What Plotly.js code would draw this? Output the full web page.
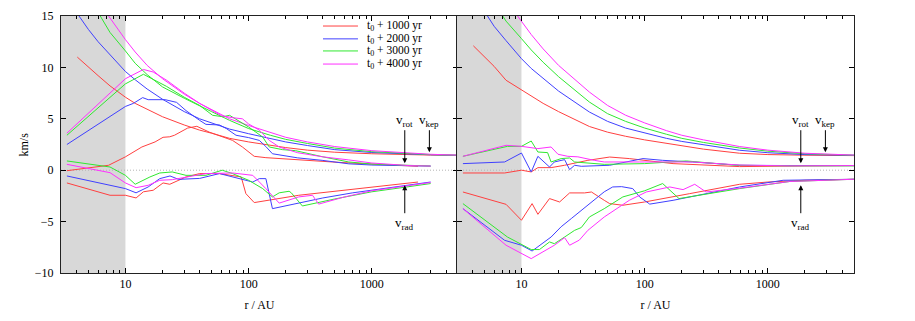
<!DOCTYPE html>
<html>
<head>
<meta charset="utf-8">
<script src="https://cdn.plot.ly/plotly-3.0.1.min.js"></script>
<style>
  html, body { margin: 0; padding: 0; background: #fff; }
  #chart { width: 915px; height: 321px; }
</style>
</head>
<body>
<div id="chart"></div>
<script>
// series labels and colours
const epochs = ['t<sub>0</sub> + 1000 yr', 't<sub>0</sub> + 2000 yr', 't<sub>0</sub> + 3000 yr', 't<sub>0</sub> + 4000 yr'];
const colors = ['#ff4040', '#4040ff', '#30e830', '#ff30ff'];

// ---------- left panel ----------
// keplerian velocity
const kepL_r = [
  [4.07, 5, 6, 7.5, 10, 12, 15, 20, 30, 40, 50, 70, 100, 150, 200, 300, 500, 1000, 2000, 3000, 5000],
  [4.2, 5, 6, 7.5, 10, 12, 15, 20, 30, 40, 50, 70, 100, 150, 200, 300, 500, 1000, 2000, 3000, 5000],
  [6.25, 7.5, 10, 12, 15, 20, 30, 40, 50, 70, 100, 150, 200, 300, 500, 1000, 2000, 3000, 5000],
  [7.3, 10, 12, 15, 20, 30, 40, 50, 70, 100, 150, 200, 300, 500, 1000, 2000, 3000, 5000]
];
const kepL_v = [
  [11.0, 10.0, 9.2, 8.2, 7.1, 6.5, 5.9, 5.2, 4.4, 3.9, 3.6, 3.1, 2.75, 2.4, 2.2, 1.95, 1.75, 1.6, 1.5, 1.47, 1.45],
  [15.0, 13.7, 12.5, 11.2, 9.6, 8.8, 7.9, 6.9, 5.7, 5.0, 4.6, 4.0, 3.55, 3.05, 2.75, 2.4, 2.0, 1.72, 1.55, 1.5, 1.45],
  [15.0, 13.4, 11.6, 10.4, 9.3, 8.1, 7.0, 6.3, 5.7, 4.85, 4.05, 3.4, 3.0, 2.6, 2.15, 1.8, 1.6, 1.52, 1.45],
  [15.0, 12.7, 11.5, 10.2, 8.9, 7.4, 6.5, 5.9, 5.0, 4.35, 3.65, 3.2, 2.75, 2.3, 1.9, 1.65, 1.55, 1.46]
];
// rotational velocity
const rotL_r = [
  [3.35, 7.3, 10, 13.6, 17.4, 20.2, 22.9, 25, 32, 38, 48, 60, 74, 89, 100, 111, 138, 188, 300, 478, 800, 1200, 2370],
  [3.35, 10, 11.6, 13.8, 15.3, 21, 26, 31, 40, 45, 58, 66, 79, 100, 122, 138, 156, 250, 395, 650, 1000, 2000, 3000],
  [3.35, 10, 14, 21.5, 30, 40, 51, 62, 70, 85, 100, 130, 147, 188, 240, 400, 650, 1000, 2000, 3000],
  [3.35, 10, 14, 16.8, 21.6, 30, 40, 50, 60, 75, 89, 100, 122, 147, 177, 250, 400, 650, 1000, 2000, 3000]
];
const rotL_v = [
  [-0.05, 0.48, 1.3, 2.26, 2.75, 3.2, 3.25, 3.4, 4.1, 4.27, 3.7, 3.3, 2.9, 2.26, 1.8, 1.35, 1.22, 1.1, 0.95, 0.8, 0.65, 0.54, 0.38],
  [2.5, 6.2, 6.5, 7.06, 6.86, 6.86, 6.6, 5.8, 4.85, 4.46, 4.4, 4.05, 3.4, 3.17, 2.9, 2.3, 1.6, 1.2, 0.96, 0.62, 0.5, 0.42, 0.4],
  [3.4, 8.4, 9.33, 8.16, 7.1, 6.3, 5.34, 5.2, 5.34, 4.7, 4.2, 3.23, 2.26, 2.0, 1.9, 1.3, 0.8, 0.6, 0.45, 0.4],
  [3.6, 8.9, 9.8, 9.55, 8.75, 7.5, 6.5, 5.8, 5.3, 5.1, 5.0, 4.5, 3.9, 2.9, 2.26, 1.7, 1.3, 1.0, 0.7, 0.45, 0.4]
];
// radial velocity
const radL_r = [
  [3.35, 7.5, 10, 12.2, 14, 16.8, 20.2, 22.9, 31, 40, 58, 87, 95, 111, 255, 500, 880, 1500, 2370],
  [3.35, 10, 12.2, 15.3, 19, 23, 27, 40, 58, 84, 108, 122, 138, 156, 250, 400, 700, 1000, 2000, 3000],
  [3.35, 7.5, 10, 12, 15.8, 19, 24, 31, 45, 61, 74, 100, 130, 156, 177, 213, 222, 273, 500, 1000, 2000, 3000],
  [3.35, 7.5, 10, 12.2, 15.3, 19, 24, 31, 45, 74, 108, 138, 177, 255, 330, 370, 600, 1000, 2000, 3000]
];
const radL_v = [
  [-1.24, -2.44, -2.44, -2.7, -2.1, -1.95, -1.24, -1.37, -0.66, -0.33, -0.33, -0.66, -2.28, -3.15, -2.44, -2.05, -1.79, -1.45, -1.15],
  [-0.56, -1.79, -2.2, -1.63, -0.82, -0.56, -0.89, -0.8, -0.33, -0.82, -1.15, -0.82, -0.82, -3.74, -3.2, -2.7, -2.2, -1.95, -1.4, -1.15],
  [0.9, 0.31, -0.5, -1.37, -0.66, -0.27, -0.17, -0.5, -0.5, 0.0, -0.33, -0.98, -1.79, -2.6, -2.2, -2.05, -2.2, -3.48, -2.8, -2.1, -1.6, -1.3],
  [0.57, -0.24, -1.24, -1.7, -1.47, -0.98, -0.92, -0.66, -0.33, -0.27, -0.5, -1.79, -3.2, -2.6, -2.44, -3.3, -2.6, -2.0, -1.5, -1.2]
];

// ---------- right panel ----------
const kepR_r = [
  [4.07, 5, 6, 7.5, 10, 12, 15, 20, 35.6, 50, 70, 100, 150, 200, 300, 590, 1000, 2000, 5000],
  [5.3, 6, 7.5, 10, 12, 15, 20, 35.6, 50, 70, 100, 150, 200, 300, 590, 1000, 2000, 5000],
  [7.05, 7.5, 10, 12, 15, 20, 35.6, 50, 70, 100, 150, 200, 300, 590, 1000, 2000, 5000],
  [9.3, 10, 12, 15, 20, 35.6, 50, 70, 100, 150, 200, 300, 590, 1000, 2000, 5000]
];
const kepR_v = [
  [12.1, 11.0, 10.1, 8.75, 7.8, 7.2, 6.5, 5.7, 4.25, 3.7, 3.3, 2.95, 2.6, 2.35, 2.05, 1.65, 1.52, 1.46, 1.42],
  [15.0, 14.0, 12.6, 10.85, 9.9, 8.9, 7.7, 5.66, 4.75, 4.1, 3.6, 3.1, 2.8, 2.45, 1.94, 1.7, 1.52, 1.45],
  [15.0, 14.5, 12.8, 11.7, 10.5, 9.1, 6.63, 5.5, 4.75, 4.1, 3.5, 3.1, 2.7, 2.16, 1.85, 1.6, 1.46],
  [15.0, 14.5, 13.2, 11.8, 10.2, 7.6, 6.3, 5.35, 4.6, 3.85, 3.4, 2.95, 2.3, 1.95, 1.65, 1.47]
];
const rotR_r = [
  [3.35, 7.3, 10, 12, 13.6, 17.4, 22.4, 34.6, 52, 75, 170, 590, 2000, 5000],
  [3.35, 7.3, 10, 12, 13.6, 16.9, 18.5, 22.4, 24.6, 27, 30.6, 52, 97, 140, 245, 590, 1500, 5000],
  [3.35, 7.7, 10, 12, 13.6, 16.3, 17.4, 21, 24.6, 27, 47, 100, 218, 556, 1500, 5000],
  [3.35, 7.5, 10, 13.6, 17.4, 19.8, 23.8, 28.7, 39, 47, 91, 250, 590, 1500, 5000]
];
const rotR_v = [
  [-0.27, -0.27, 0.0, -0.17, 0.25, 0.25, 0.48, 0.96, 1.28, 1.13, 0.64, 0.35, 0.42, 0.45],
  [0.64, 0.8, 1.67, -0.17, 1.35, 0.31, 0.8, 1.03, 0.06, 0.48, 0.38, 0.48, 1.13, 0.96, 0.8, 0.48, 0.45, 0.45],
  [1.35, 2.32, 2.32, 2.84, 1.77, 1.71, 0.8, 1.13, 1.19, 0.8, 0.57, 0.64, 0.9, 0.48, 0.42, 0.42],
  [1.35, 2.42, 2.32, 2.1, 2.26, 1.55, 1.35, 1.3, 0.96, 0.8, 0.8, 0.8, 0.5, 0.42, 0.45]
];
const radR_r = [
  [3.35, 7.5, 10, 12.2, 13.6, 16.9, 20.4, 24.6, 32.5, 37, 47, 52, 66.5, 100, 232, 590, 1000, 2000, 5000],
  [3.35, 7.3, 10, 12.2, 17.4, 21, 25.4, 30.6, 39, 47, 55, 65, 80, 91, 110, 170, 590, 1330, 5000],
  [3.35, 7.7, 12, 14, 16.9, 18.5, 22.4, 27, 30.6, 35.6, 47, 66.5, 100, 140, 190, 590, 1500, 5000],
  [3.35, 7.5, 12, 18.5, 22.4, 24.6, 29.5, 34.6, 47, 75, 103, 160, 205, 255, 315, 590, 1500, 5000]
];
const radR_v = [
  [-2.12, -3.32, -4.87, -3.25, -4.29, -2.76, -3.09, -2.21, -2.21, -2.12, -2.93, -3.25, -3.41, -3.09, -2.28, -1.37, -1.15, -0.98, -0.88],
  [-3.74, -6.82, -7.3, -7.86, -6.5, -5.5, -4.7, -3.9, -2.93, -2.1, -1.63, -1.6, -1.79, -2.6, -3.3, -2.93, -1.63, -0.98, -0.88],
  [-3.25, -6.5, -7.72, -7.72, -6.98, -7.15, -6.5, -5.85, -5.58, -4.55, -3.74, -2.6, -2.0, -1.3, -2.76, -1.79, -1.1, -0.88],
  [-3.74, -7.3, -8.6, -7.3, -6.56, -7.3, -6.8, -5.85, -4.55, -2.93, -2.12, -1.63, -1.89, -1.37, -2.12, -1.75, -1.1, -0.88]
];

// axis settings
const xRange = [Math.log10(3), Math.log10(5000)];
const xMajor = [10, 100, 1000];
const xMinor = [3, 4, 5, 6, 7, 8, 9, 20, 30, 40, 50, 60, 70, 80, 90,
                200, 300, 400, 500, 600, 700, 800, 900, 2000, 3000, 4000, 5000];
const yTicks = [-10, -5, 0, 5, 10, 15];

const traces = [];
function addSet(rs, vs, xa, ya) {
  rs.forEach((r, i) => {
    traces.push({
      x: r, y: vs[i], xaxis: xa, yaxis: ya,
      mode: 'lines', showlegend: false, hoverinfo: 'skip',
      line: { color: colors[i], width: 1 }
    });
  });
}
addSet(kepL_r, kepL_v, 'x', 'y');
addSet(rotL_r, rotL_v, 'x', 'y');
addSet(radL_r, radL_v, 'x', 'y');
addSet(kepR_r, kepR_v, 'x2', 'y2');
addSet(rotR_r, rotR_v, 'x2', 'y2');
addSet(radR_r, radR_v, 'x2', 'y2');

const font = { family: 'Liberation Serif, Times New Roman, serif', size: 12, color: '#000' };

function xAxis(domain, anchor) {
  return {
    type: 'log', range: xRange, domain: domain, anchor: anchor,
    tickvals: xMajor, ticktext: ['10', '100', '1000'],
    ticks: 'inside', ticklen: 5, tickcolor: '#000',
    minor: { tickvals: xMinor, ticks: 'inside', ticklen: 3, tickcolor: '#000' },
    showline: true, linecolor: '#222', linewidth: 1, mirror: 'ticks',
    showgrid: false, zeroline: false,
    title: { text: 'r / AU', font: font, standoff: 10 },
    tickfont: font
  };
}
function yAxis(anchor, labels) {
  return {
    range: [-10, 15], anchor: anchor, tickvals: yTicks,
    showticklabels: labels, ticklabelstandoff: 4,
    ticks: 'inside', ticklen: 5, tickcolor: '#000',
    showline: true, linecolor: '#222', linewidth: 1, mirror: 'ticks',
    showgrid: false, zeroline: false,
    tickfont: font
  };
}

// shaded inner region and dotted zero line for both panels
const shapes = [];
['x', 'x2'].forEach((xa, k) => {
  const ya = k === 0 ? 'y' : 'y2';
  shapes.push({ type: 'rect', xref: xa, yref: ya, x0: 3, x1: 10, y0: -10, y1: 15,
                fillcolor: '#d8d8d8', line: { width: 0 }, layer: 'below' });
  shapes.push({ type: 'line', xref: xa, yref: ya, x0: 3, x1: 5000, y0: 0, y1: 0,
                line: { color: '#b4b4b4', width: 1, dash: '1px,2px' }, layer: 'below' });
});

const annotations = [];
// y axis title, placed by hand
annotations.push({ xref: 'paper', yref: 'paper', x: -0.0467, y: 0.5, textangle: -90,
                   xanchor: 'center', yanchor: 'middle', text: 'km/s', showarrow: false, font: font });

// legend drawn by hand (tight rows like the original)
const legRows = [0.961, 0.911, 0.864, 0.813];
const legFont = { family: font.family, size: 11.5, color: '#000' };
epochs.forEach((name, i) => {
  shapes.push({ type: 'line', xref: 'paper', yref: 'paper', x0: 0.3304, x1: 0.3745,
                y0: legRows[i], y1: legRows[i], line: { color: colors[i], width: 1 } });
  annotations.push({ xref: 'paper', yref: 'paper', x: 0.3835, y: legRows[i],
                     xanchor: 'left', yanchor: 'middle', text: name, showarrow: false, font: legFont });
});

// arrow labels
const arrowFont = { family: font.family, size: 13, color: '#000' };
[['x', 'y'], ['x2', 'y2']].forEach(([xa, ya]) => {
  annotations.push({ xref: xa, yref: ya, x: Math.log10(1850), y: 0.68, ax: 0, ay: -43,
                     text: 'v<sub>rot</sub>', font: arrowFont, showarrow: true,
                     arrowhead: 2, arrowsize: 1, arrowwidth: 1, arrowcolor: '#000' });
  annotations.push({ xref: xa, yref: ya, x: Math.log10(2930), y: 1.75, ax: 0, ay: -32,
                     text: 'v<sub>kep</sub>', font: arrowFont, showarrow: true,
                     arrowhead: 2, arrowsize: 1, arrowwidth: 1, arrowcolor: '#000' });
  annotations.push({ xref: xa, yref: ya, x: Math.log10(1850), y: -1.46, ax: 0, ay: 38,
                     text: 'v<sub>rad</sub>', font: arrowFont, showarrow: true,
                     arrowhead: 2, arrowsize: 1, arrowwidth: 1, arrowcolor: '#000' });
});

const layout = {
  width: 915, height: 321,
  margin: { l: 61, r: 61, t: 16, b: 48 },
  paper_bgcolor: '#fff', plot_bgcolor: 'rgba(0,0,0,0)',
  font: font, showlegend: false,
  xaxis: xAxis([0, 0.5006], 'y'),
  yaxis: yAxis('x', true),
  xaxis2: xAxis([0.4994, 1], 'y2'),
  yaxis2: yAxis('x2', false),
  shapes: shapes,
  annotations: annotations
};

Plotly.newPlot('chart', traces, layout, { staticPlot: true, displayModeBar: false });
</script>
</body>
</html>
